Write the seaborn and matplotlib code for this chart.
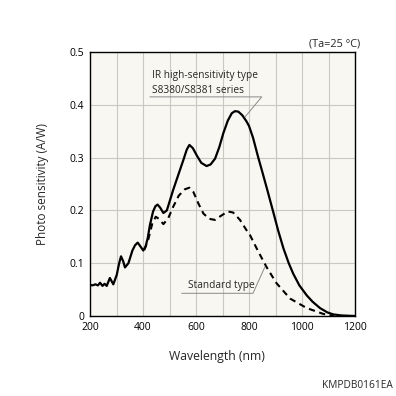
import pandas as pd
import matplotlib
matplotlib.use("Agg")
import matplotlib.pyplot as plt
import seaborn as sns

# IR high-sensitivity type (S8380/S8381 series)
ir_nm = [200, 210, 220, 230, 238, 247, 255, 263, 275, 288, 301, 310, 317, 325, 332, 345,
         360, 370, 380, 390, 401, 410, 418, 426, 438, 447, 455, 465, 477, 490, 514, 535, 552,
         565, 575, 588, 603, 620, 640, 655, 672, 688, 703, 720, 735, 747, 760, 775, 790,
         800, 815, 835, 848, 870, 892, 910, 930, 950, 967, 990, 1018, 1040, 1068, 1095,
         1118, 1150, 1200]
ir_val = [0.059, 0.058, 0.060, 0.058, 0.063, 0.057, 0.061, 0.057, 0.072, 0.060, 0.078,
          0.100, 0.113, 0.104, 0.092, 0.100, 0.124, 0.134, 0.139, 0.132, 0.124, 0.132,
          0.148, 0.172, 0.198, 0.208, 0.211, 0.205, 0.195, 0.200, 0.239, 0.270, 0.295,
          0.315, 0.324, 0.318, 0.304, 0.290, 0.284, 0.287, 0.298, 0.320, 0.346, 0.370,
          0.384, 0.388, 0.387, 0.380, 0.369, 0.360, 0.338, 0.300, 0.277, 0.237, 0.196,
          0.162, 0.128, 0.100, 0.080, 0.058, 0.039, 0.027, 0.015, 0.007, 0.003, 0.001, 0.0]

# Standard type
std_nm = [405, 420, 435, 448, 460, 477, 495, 514, 535, 558, 575, 590, 610, 628, 650, 672,
          695, 720, 740, 766, 790, 804, 835, 867, 904, 955, 1018, 1080, 1120]
std_val = [0.125, 0.145, 0.175, 0.188, 0.184, 0.174, 0.185, 0.207, 0.228, 0.240, 0.243,
           0.235, 0.212, 0.194, 0.184, 0.182, 0.190, 0.198, 0.196, 0.182, 0.163, 0.153,
           0.122, 0.092, 0.062, 0.033, 0.015, 0.004, 0.0]

x_ticks = [200, 400, 600, 800, 1000, 1200]
y_ticks = [0, 0.1, 0.2, 0.3, 0.4, 0.5]
y_ticklabels = ["0", "0.1", "0.2", "0.3", "0.4", "0.5"]

sns.set_theme(style="whitegrid")
plt.rcParams["font.family"] = ["Open Sans", "DejaVu Sans"]

fig = plt.figure(figsize=(3.96, 3.96), dpi=100)
ax = fig.add_axes([90 / 396, 80 / 396, 265 / 396, 264 / 396])
ax.set_facecolor("#f8f7f2")

df_ir = pd.DataFrame({"nm": ir_nm, "val": ir_val})
df_std = pd.DataFrame({"nm": std_nm, "val": std_val})

sns.lineplot(data=df_ir, x="nm", y="val", ax=ax, color="black", linewidth=1.6)
sns.lineplot(data=df_std, x="nm", y="val", ax=ax, color="black", linewidth=1.5,
             linestyle=(0, (3, 2.2)))

ax.set_xlim(200, 1200)
ax.set_ylim(0, 0.5)
ax.set_xticks(x_ticks)
ax.set_xticks(range(300, 1200, 200), minor=True)
ax.set_yticks(y_ticks)
ax.set_yticklabels(y_ticklabels)
ax.grid(True, which="both", color="#c9c9c4", linewidth=0.8)
ax.tick_params(axis="both", which="both", length=0, labelsize=7.5, pad=4, colors="black")
for s in ax.spines.values():
    s.set_color("black")
    s.set_linewidth(1.0)

ax.set_xlabel("Wavelength (nm)", fontsize=8.8, labelpad=13)
ax.xaxis.set_label_coords(0.48, -0.13)
ax.set_ylabel("Photo sensitivity (A/W)", fontsize=8.5, labelpad=15)

# annotations
lead = "#8a8a8a"
ax.text(433, 0.456, "IR high-sensitivity type", fontsize=7.3, va="center", ha="left")
ax.text(433, 0.428, "S8380/S8381 series", fontsize=7.3, va="center", ha="left")
ax.plot([426, 848, 785], [0.415, 0.415, 0.377], color=lead, linewidth=0.7)

ax.text(571, 0.057, "Standard type", fontsize=7.3, va="center", ha="left")
ax.plot([546, 815, 860], [0.043, 0.043, 0.093], color=lead, linewidth=0.7)

fig.text(360 / 396, 1 - 44 / 396, "(Ta=25 °C)", fontsize=7.8, ha="right", va="center")
fig.text(393 / 396, 1 - 385 / 396, "KMPDB0161EA", fontsize=7.3, ha="right", va="center")

fig.savefig("out.png", dpi=100, facecolor="white")
